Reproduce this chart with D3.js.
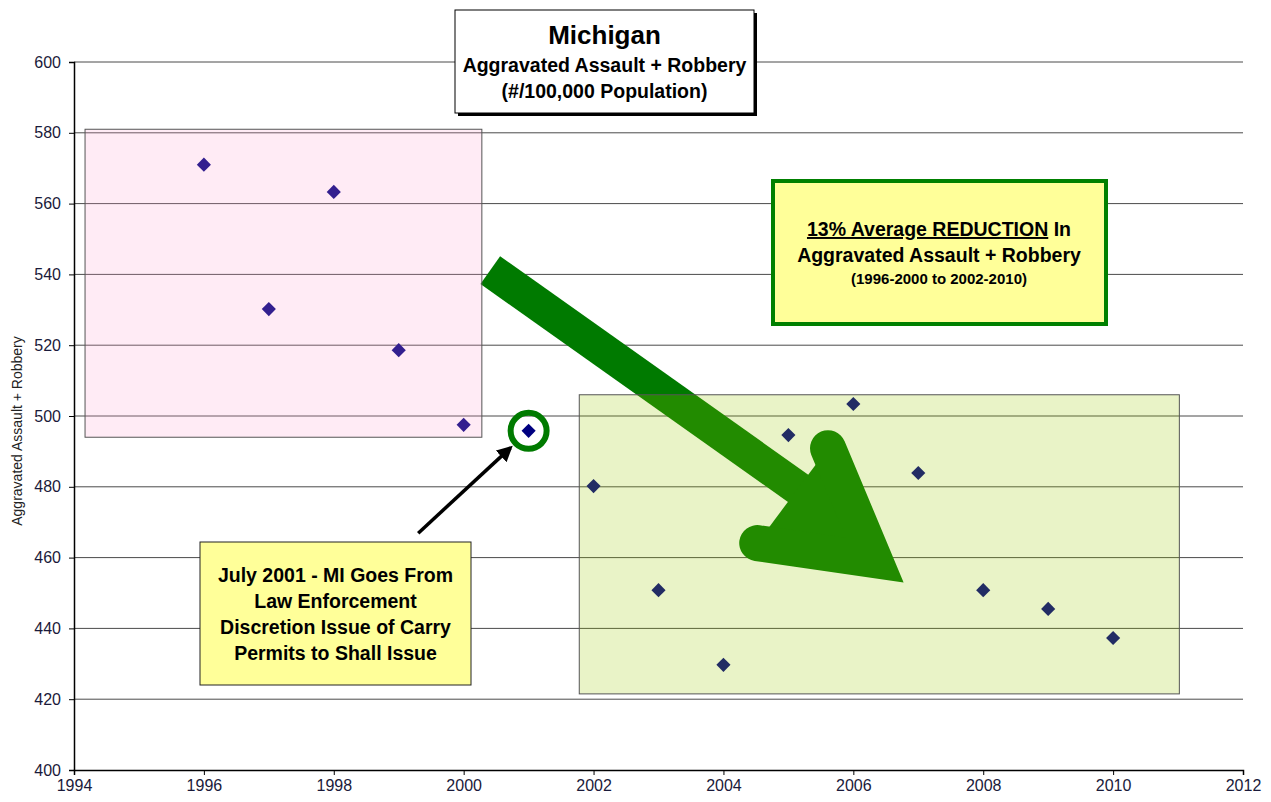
<!DOCTYPE html>
<html>
<head>
<meta charset="utf-8">
<script src="https://cdn.jsdelivr.net/npm/d3@7"></script>
<style>
  body { margin: 0; background: #fff; }
  svg { font-family: "Liberation Sans", Arial, sans-serif; }
</style>
</head>
<body>
<svg id="chart" width="1271" height="802"></svg>
<script>
var years = [1996, 1997, 1998, 1999, 2000, 2001, 2002, 2003, 2004, 2005, 2006, 2007, 2008, 2009, 2010];
var rates = [571.0, 530.2, 563.3, 518.6, 497.5, 495.8, 480.2, 450.8, 429.7, 494.6, 503.4, 483.9, 450.8, 445.5, 437.3];
var xTicks = d3.range(1994, 2013, 2);
var yTicks = d3.range(400, 601, 20);

// shaded periods [x0, x1, y0, y1]
var beforeBox = [1994.17, 2000.28, 494, 581];
var afterBox = [2001.78, 2011.02, 421.5, 506];
var lawYear = 2001;

var titleLines = ["Michigan", "Aggravated Assault + Robbery", "(#/100,000 Population)"];
var noteLines = ["July 2001 - MI Goes From", "Law Enforcement", "Discretion Issue of Carry", "Permits to Shall Issue"];

var svg = d3.select("#chart");
var x = d3.scaleLinear().domain([1994, 2012]).range([74, 1243]);
var y = d3.scaleLinear().domain([400, 600]).range([770, 62]);

// grid
svg.append("g").selectAll("line").data(yTicks.slice(1)).join("line")
  .attr("x1", x(1994)).attr("x2", x(2012))
  .attr("y1", d => y(d)).attr("y2", d => y(d))
  .attr("stroke", "#4a4a4a").attr("stroke-width", 1);

// points (boxes laid over them tint them)
svg.append("g").selectAll("path").data(years).join("path")
  .attr("d", d3.symbol(d3.symbolSquare, 100))
  .attr("transform", (d, i) => "translate(" + x(d) + "," + y(rates[i]) + ") rotate(45)")
  .attr("fill", "#000080");

// big green arrow
var a0 = [x(2000.41), y(541.2)], a1 = [x(2006.0), y(468.5)];
svg.append("line")
  .attr("x1", a0[0]).attr("y1", a0[1]).attr("x2", a1[0]).attr("y2", a1[1])
  .attr("stroke", "#007a00").attr("stroke-width", 34);
svg.append("path")
  .attr("d", d3.line()([[x(2005.61), y(490.9)], [x(2006.33), y(459.3)], [x(2004.52), y(464.1)]]))
  .attr("fill", "#007a00").attr("stroke", "#007a00").attr("stroke-width", 36)
  .attr("stroke-linecap", "round").attr("stroke-linejoin", "miter").attr("stroke-miterlimit", 10);

// period boxes
svg.append("rect")
  .attr("x", x(beforeBox[0])).attr("y", y(beforeBox[3]))
  .attr("width", x(beforeBox[1]) - x(beforeBox[0])).attr("height", y(beforeBox[2]) - y(beforeBox[3]))
  .attr("fill", "rgb(255,153,204)").attr("fill-opacity", 0.2)
  .attr("stroke", "#555").attr("stroke-width", 1);
svg.append("rect")
  .attr("x", x(afterBox[0])).attr("y", y(afterBox[3]))
  .attr("width", x(afterBox[1]) - x(afterBox[0])).attr("height", y(afterBox[2]) - y(afterBox[3]))
  .attr("fill", "rgb(155,199,0)").attr("fill-opacity", 0.22)
  .attr("stroke", "#555").attr("stroke-width", 1);

// axes
svg.append("g")
  .attr("transform", "translate(" + x(1994) + ",0)")
  .call(d3.axisLeft(y).tickValues(yTicks).tickSize(5).tickPadding(8))
  .call(g => g.select(".domain").attr("stroke-width", 1.5))
  .selectAll("text").attr("font-size", 16).attr("fill", "#1a1a3a");
svg.append("g")
  .attr("transform", "translate(0," + y(400) + ")")
  .call(d3.axisBottom(x).tickValues(xTicks).tickFormat(d3.format("d")).tickSize(5).tickPadding(5))
  .call(g => g.select(".domain").attr("stroke-width", 1.5))
  .selectAll("text").attr("font-size", 16).attr("fill", "#1a1a3a");

svg.append("text")
  .attr("transform", "translate(22,431) rotate(-90)")
  .attr("text-anchor", "middle").attr("font-size", 14).attr("fill", "#222")
  .text("Aggravated Assault + Robbery");

// title box
svg.append("rect").attr("x", 458).attr("y", 13).attr("width", 299).attr("height", 103).attr("fill", "#000");
svg.append("rect").attr("x", 455).attr("y", 10).attr("width", 299).attr("height", 103)
  .attr("fill", "#fff").attr("stroke", "#000");
svg.append("text").attr("x", 604.5).attr("y", 44).attr("text-anchor", "middle")
  .attr("font-size", 26).attr("font-weight", "bold").text(titleLines[0]);
svg.selectAll(".tl").data(titleLines.slice(1)).join("text")
  .attr("x", 604.5).attr("y", (d, i) => 72 + i * 26).attr("text-anchor", "middle")
  .attr("font-size", 19.5).attr("font-weight", "bold").text(d => d);

// reduction box
svg.append("rect").attr("x", 773).attr("y", 181).attr("width", 333).attr("height", 143)
  .attr("fill", "#ffff99").attr("stroke", "#008000").attr("stroke-width", 4);
var t1 = svg.append("text").attr("x", 939).attr("y", 236).attr("text-anchor", "middle")
  .attr("font-size", 19.5).attr("font-weight", "bold");
t1.append("tspan").attr("text-decoration", "underline").text("13% Average REDUCTION");
t1.append("tspan").text(" In");
svg.append("text").attr("x", 939).attr("y", 262).attr("text-anchor", "middle")
  .attr("font-size", 19.5).attr("font-weight", "bold").text("Aggravated Assault + Robbery");
svg.append("text").attr("x", 939).attr("y", 284).attr("text-anchor", "middle")
  .attr("font-size", 15).attr("font-weight", "bold").text("(1996-2000 to 2002-2010)");

// law change note
svg.append("rect").attr("x", 200).attr("y", 542).attr("width", 271).attr("height", 143)
  .attr("fill", "#ffff99").attr("stroke", "#222").attr("stroke-width", 1);
svg.selectAll(".nl").data(noteLines).join("text")
  .attr("x", 335.5).attr("y", (d, i) => 582 + i * 26).attr("text-anchor", "middle")
  .attr("font-size", 19.5).attr("font-weight", "bold").text(d => d);

svg.append("defs").append("marker")
  .attr("id", "head").attr("viewBox", "0 0 10 10").attr("refX", 8).attr("refY", 5)
  .attr("markerWidth", 4.5).attr("markerHeight", 4.5).attr("orient", "auto")
  .append("path").attr("d", "M0,0L10,5L0,10z").attr("fill", "#000");
svg.append("line")
  .attr("x1", x(1999.3)).attr("y1", y(466.9)).attr("x2", x(2000.72)).attr("y2", y(491.0))
  .attr("stroke", "#000").attr("stroke-width", 3.5).attr("marker-end", "url(#head)");

var li = years.indexOf(lawYear);
svg.append("circle").attr("cx", x(lawYear)).attr("cy", y(rates[li])).attr("r", 18)
  .attr("fill", "none").attr("stroke", "#007a00").attr("stroke-width", 6);
</script>
</body>
</html>
